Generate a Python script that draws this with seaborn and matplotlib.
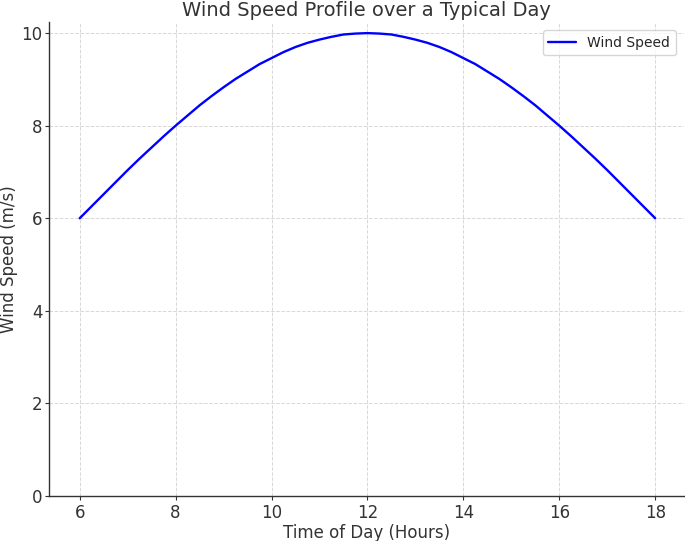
import matplotlib
matplotlib.use("Agg")
import matplotlib.pyplot as plt
import seaborn as sns
import pandas as pd

hours = [6.0, 6.25, 6.5, 6.75, 7.0, 7.25, 7.5, 7.75, 8.0, 8.25, 8.5, 8.75,
         9.0, 9.25, 9.5, 9.75, 10.0, 10.25, 10.5, 10.75, 11.0, 11.25, 11.5, 11.75,
         12.0, 12.25, 12.5, 12.75, 13.0, 13.25, 13.5, 13.75, 14.0, 14.25, 14.5, 14.75,
         15.0, 15.25, 15.5, 15.75, 16.0, 16.25, 16.5, 16.75, 17.0, 17.25, 17.5, 17.75, 18.0]
wind_speed = [6.00, 6.26, 6.52, 6.78, 7.04, 7.29, 7.53, 7.77, 8.00, 8.22, 8.44, 8.64,
              8.83, 9.01, 9.17, 9.33, 9.46, 9.59, 9.70, 9.79, 9.86, 9.92, 9.97, 9.99,
              10.00, 9.99, 9.97, 9.92, 9.86, 9.79, 9.70, 9.59, 9.46, 9.33, 9.17, 9.01,
              8.83, 8.64, 8.44, 8.22, 8.00, 7.77, 7.53, 7.29, 7.04, 6.78, 6.52, 6.26, 6.00]
x_ticks = [6, 8, 10, 12, 14, 16, 18]
y_ticks = [0, 2, 4, 6, 8, 10]

df = pd.DataFrame({"Time": hours, "Wind Speed": wind_speed})

sns.set_theme(style="whitegrid")
plt.rcParams["font.family"] = ["DejaVu Sans"]

fig = plt.figure(figsize=(6.85, 5.41), dpi=100)
ax = fig.add_axes([49/685, 1-496/541, (684-49)/685, (496-22)/541])

sns.lineplot(data=df, x="Time", y="Wind Speed", ax=ax, color="blue", linewidth=1.7,
             label="Wind Speed")

ax.set_xlim(5.36, 18.6)
ax.set_ylim(0, 10.24)
ax.set_xticks(x_ticks)
ax.set_yticks(y_ticks)
ax.tick_params(axis="both", labelsize=12, length=3, width=0.8, color="#333333",
               bottom=True, left=True, labelcolor="#333333")
ax.tick_params(axis="y", pad=1.5)
ax.tick_params(axis="x", pad=3)
ax.grid(True, linestyle="--", color="#d8d8d8", linewidth=0.7)
for s in ["top", "right"]:
    ax.spines[s].set_visible(False)
for s in ["left", "bottom"]:
    ax.spines[s].set_visible(True)
    ax.spines[s].set_color("#333333")
    ax.spines[s].set_linewidth(1.0)
ax.set_facecolor("white")

ax.set_title("Wind Speed Profile over a Typical Day", fontsize=14, color="#333333", pad=4)
ax.set_xlabel("Time of Day (Hours)", fontsize=12, color="#333333", labelpad=1)
ax.set_ylabel("Wind Speed (m/s)", fontsize=12, color="#333333", labelpad=2.5)

leg = ax.legend(loc="upper right", fontsize=10, frameon=True, borderaxespad=0.6)
leg.get_frame().set_edgecolor("#cccccc")

fig.savefig("out.png", dpi=100, facecolor="white")
